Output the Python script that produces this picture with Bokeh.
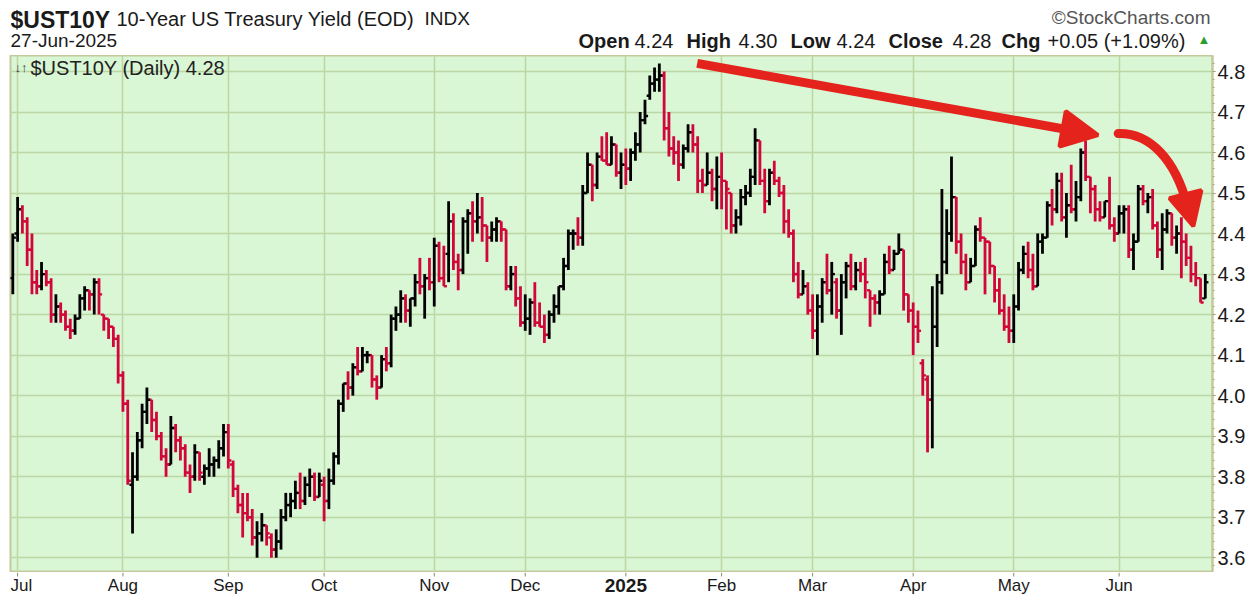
import numpy as np
import pandas as pd
from bokeh.plotting import figure
from bokeh.layouts import column
from bokeh.models import ColumnDataSource, FixedTicker, Label, Arrow, NormalHead, Range1d
from bokeh.core.properties import value
from bokeh.embed import file_html
from bokeh.resources import INLINE

# ---------------- data ----------------
first_day = "2024-06-28"
last_day = "2025-06-27"
market_closed = ["2024-07-04", "2024-09-02", "2024-11-11", "2024-11-28", "2024-12-25",
                 "2025-01-01", "2025-01-09", "2025-01-20", "2025-02-17", "2025-04-18",
                 "2025-06-19"]
month_labels = {7: "Jul", 8: "Aug", 9: "Sep", 10: "Oct", 11: "Nov", 12: "Dec",
                1: "2025", 2: "Feb", 3: "Mar", 4: "Apr", 5: "May", 6: "Jun"}
y_tick_values = [3.6, 3.7, 3.8, 3.9, 4.0, 4.1, 4.2, 4.3, 4.4, 4.5, 4.6, 4.7, 4.8]

symbol = "$UST10Y"
description = "10-Year US Treasury Yield (EOD)"
exchange = "INDX"
as_of = "27-Jun-2025"
last_quote = [("Open", "4.24"), ("High", "4.30"), ("Low", "4.24"), ("Close", "4.28"),
              ("Chg", "+0.05 (+1.09%)")]

opens = [
    4.29,
    4.40, 4.46, 4.43, 4.36, 4.28, 4.27, 4.30, 4.28, 4.20, 4.22, 4.20, 4.17, 4.16, 4.19, 4.24, 4.26, 4.25, 4.28, 4.20, 4.19, 4.17, 4.14,
    4.05, 3.98, 3.78, 3.80, 3.89, 3.96, 3.99, 3.94, 3.90, 3.85, 3.83, 3.92, 3.89, 3.87, 3.81, 3.80, 3.86, 3.80, 3.82, 3.83, 3.84, 3.87,
    3.91, 3.83, 3.77, 3.73, 3.71, 3.70, 3.65, 3.66, 3.68, 3.65, 3.62, 3.64, 3.70, 3.73, 3.74, 3.76, 3.74, 3.78, 3.80, 3.75,
    3.78, 3.74, 3.79, 3.85, 3.98, 4.03, 4.02, 4.07, 4.06, 4.10, 4.10, 4.04, 4.02, 4.09, 4.08, 4.19, 4.20, 4.24, 4.21, 4.24, 4.28, 4.27, 4.29,
    4.28, 4.37, 4.29, 4.35, 4.43, 4.33, 4.31, 4.43, 4.45, 4.43, 4.44, 4.42, 4.39, 4.41, 4.43, 4.41, 4.27, 4.30, 4.24,
    4.18, 4.19, 4.23, 4.18, 4.17, 4.15, 4.20, 4.22, 4.27, 4.32, 4.40, 4.40, 4.39, 4.50, 4.57, 4.52, 4.59, 4.58, 4.57, 4.62, 4.55,
    4.57, 4.56, 4.60, 4.62, 4.68, 4.74, 4.77, 4.78, 4.79, 4.66, 4.61, 4.60, 4.57, 4.61, 4.65, 4.62, 4.53, 4.52, 4.55, 4.51,
    4.54, 4.53, 4.50, 4.42, 4.44, 4.49, 4.50, 4.54, 4.63, 4.53, 4.48, 4.55, 4.53, 4.50, 4.43, 4.40, 4.30, 4.25, 4.27,
    4.21, 4.16, 4.22, 4.28, 4.26, 4.28, 4.21, 4.28, 4.32, 4.27, 4.31, 4.30, 4.26, 4.24, 4.23, 4.25, 4.33, 4.31, 4.35, 4.36, 4.25,
    4.21, 4.17, 4.08, 4.04, 3.99, 4.17, 4.28, 4.33, 4.40, 4.49, 4.38, 4.33, 4.28, 4.32, 4.41, 4.39, 4.38, 4.32, 4.26, 4.21, 4.17,
    4.16, 4.22, 4.31, 4.35, 4.31, 4.27, 4.38, 4.39, 4.47, 4.46, 4.53, 4.44, 4.47, 4.46, 4.49, 4.60, 4.54, 4.51, 4.46, 4.44, 4.48, 4.42,
    4.40, 4.45, 4.46, 4.36, 4.38, 4.51, 4.48, 4.49, 4.42, 4.36, 4.41, 4.45, 4.39, 4.40, 4.38, 4.34, 4.30, 4.29, 4.24,
]
highs = [
    4.40,
    4.49, 4.47, 4.44, 4.40, 4.31, 4.33, 4.31, 4.29, 4.25, 4.23, 4.21, 4.19, 4.20, 4.25, 4.27, 4.26, 4.29, 4.29, 4.20, 4.19, 4.17, 4.15,
    4.06, 3.99, 3.86, 3.91, 3.98, 4.02, 3.99, 3.96, 3.91, 3.87, 3.95, 3.93, 3.90, 3.88, 3.83, 3.88, 3.86, 3.83, 3.87, 3.85, 3.89, 3.93,
    3.93, 3.84, 3.78, 3.76, 3.76, 3.72, 3.69, 3.71, 3.68, 3.66, 3.67, 3.72, 3.76, 3.76, 3.79, 3.81, 3.80, 3.82, 3.81, 3.81,
    3.80, 3.82, 3.86, 3.99, 4.03, 4.06, 4.08, 4.12, 4.12, 4.11, 4.10, 4.05, 4.10, 4.12, 4.20, 4.22, 4.26, 4.25, 4.24, 4.30, 4.34, 4.30, 4.34,
    4.39, 4.38, 4.37, 4.48, 4.45, 4.35, 4.44, 4.46, 4.48, 4.50, 4.49, 4.42, 4.43, 4.44, 4.43, 4.41, 4.32, 4.32, 4.27,
    4.25, 4.24, 4.28, 4.23, 4.20, 4.21, 4.25, 4.27, 4.34, 4.41, 4.41, 4.44, 4.52, 4.60, 4.57, 4.60, 4.64, 4.65, 4.64, 4.62, 4.60,
    4.61, 4.61, 4.65, 4.70, 4.73, 4.79, 4.81, 4.82, 4.80, 4.70, 4.64, 4.63, 4.62, 4.67, 4.67, 4.64, 4.56, 4.60, 4.56, 4.59,
    4.60, 4.53, 4.50, 4.46, 4.51, 4.52, 4.56, 4.66, 4.63, 4.56, 4.56, 4.58, 4.54, 4.52, 4.46, 4.41, 4.33, 4.31, 4.28,
    4.25, 4.25, 4.29, 4.35, 4.33, 4.29, 4.30, 4.33, 4.35, 4.33, 4.33, 4.34, 4.26, 4.25, 4.26, 4.35, 4.37, 4.36, 4.40, 4.36, 4.25,
    4.23, 4.21, 4.09, 4.05, 4.27, 4.30, 4.51, 4.46, 4.59, 4.49, 4.40, 4.35, 4.34, 4.42, 4.44, 4.39, 4.38, 4.32, 4.29, 4.25, 4.22,
    4.25, 4.33, 4.37, 4.38, 4.35, 4.40, 4.40, 4.48, 4.51, 4.55, 4.55, 4.50, 4.57, 4.53, 4.61, 4.63, 4.54, 4.52, 4.48, 4.48, 4.54, 4.44,
    4.47, 4.47, 4.47, 4.40, 4.52, 4.52, 4.50, 4.51, 4.43, 4.45, 4.46, 4.45, 4.42, 4.44, 4.40, 4.37, 4.33, 4.29, 4.30,
]
lows = [
    4.25,
    4.38, 4.40, 4.32, 4.25, 4.25, 4.26, 4.27, 4.18, 4.18, 4.18, 4.16, 4.14, 4.15, 4.19, 4.21, 4.21, 4.20, 4.20, 4.16, 4.14, 4.12, 4.03,
    3.96, 3.78, 3.66, 3.79, 3.87, 3.93, 3.91, 3.89, 3.84, 3.80, 3.83, 3.86, 3.84, 3.80, 3.76, 3.79, 3.79, 3.78, 3.80, 3.80, 3.82, 3.85,
    3.82, 3.75, 3.71, 3.65, 3.69, 3.63, 3.60, 3.64, 3.63, 3.60, 3.60, 3.62, 3.69, 3.70, 3.72, 3.72, 3.73, 3.75, 3.74, 3.75,
    3.69, 3.72, 3.78, 3.83, 3.96, 3.99, 4.00, 4.05, 4.06, 4.08, 4.02, 3.99, 4.02, 4.06, 4.07, 4.16, 4.18, 4.18, 4.17, 4.22, 4.25, 4.19, 4.26,
    4.22, 4.28, 4.27, 4.28, 4.31, 4.26, 4.30, 4.35, 4.38, 4.40, 4.38, 4.33, 4.38, 4.38, 4.38, 4.26, 4.26, 4.22, 4.17,
    4.16, 4.15, 4.17, 4.17, 4.13, 4.14, 4.18, 4.20, 4.26, 4.31, 4.36, 4.37, 4.37, 4.50, 4.48, 4.51, 4.58, 4.57, 4.57, 4.54, 4.51,
    4.52, 4.53, 4.58, 4.60, 4.67, 4.73, 4.75, 4.75, 4.63, 4.59, 4.57, 4.53, 4.56, 4.60, 4.60, 4.50, 4.50, 4.52, 4.48, 4.46,
    4.46, 4.41, 4.40, 4.40, 4.42, 4.47, 4.49, 4.52, 4.52, 4.45, 4.47, 4.52, 4.49, 4.40, 4.39, 4.28, 4.24, 4.25, 4.20,
    4.14, 4.10, 4.18, 4.25, 4.20, 4.19, 4.15, 4.24, 4.26, 4.26, 4.28, 4.24, 4.17, 4.20, 4.20, 4.25, 4.30, 4.31, 4.35, 4.21, 4.18,
    4.10, 4.13, 4.00, 3.86, 3.87, 4.12, 4.25, 4.30, 4.38, 4.35, 4.30, 4.26, 4.28, 4.32, 4.38, 4.25, 4.30, 4.23, 4.20, 4.16, 4.13,
    4.13, 4.21, 4.30, 4.29, 4.26, 4.27, 4.35, 4.39, 4.42, 4.45, 4.43, 4.39, 4.45, 4.43, 4.48, 4.53, 4.45, 4.43, 4.43, 4.44, 4.41, 4.38,
    4.40, 4.40, 4.34, 4.31, 4.38, 4.47, 4.45, 4.41, 4.34, 4.31, 4.40, 4.37, 4.35, 4.29, 4.32, 4.28, 4.27, 4.23, 4.24,
]
closes = [
    4.39,
    4.46, 4.43, 4.36, 4.28, 4.27, 4.30, 4.28, 4.20, 4.22, 4.20, 4.17, 4.16, 4.19, 4.24, 4.26, 4.25, 4.28, 4.25, 4.19, 4.17, 4.14, 4.05,
    3.98, 3.79, 3.80, 3.89, 3.96, 3.99, 3.94, 3.90, 3.85, 3.83, 3.92, 3.89, 3.87, 3.81, 3.80, 3.86, 3.81, 3.82, 3.83, 3.84, 3.87, 3.91,
    3.84, 3.77, 3.73, 3.71, 3.70, 3.65, 3.66, 3.68, 3.66, 3.62, 3.64, 3.70, 3.73, 3.74, 3.76, 3.74, 3.78, 3.80, 3.75, 3.79,
    3.74, 3.79, 3.85, 3.98, 4.03, 4.02, 4.07, 4.06, 4.10, 4.10, 4.04, 4.02, 4.09, 4.08, 4.19, 4.20, 4.24, 4.21, 4.24, 4.28, 4.27, 4.29, 4.28,
    4.37, 4.29, 4.27, 4.43, 4.33, 4.31, 4.43, 4.45, 4.43, 4.44, 4.42, 4.39, 4.41, 4.43, 4.41, 4.27, 4.30, 4.24, 4.18,
    4.19, 4.23, 4.18, 4.17, 4.15, 4.20, 4.22, 4.27, 4.32, 4.40, 4.40, 4.39, 4.50, 4.57, 4.52, 4.59, 4.58, 4.57, 4.62, 4.55, 4.57,
    4.56, 4.60, 4.62, 4.68, 4.69, 4.77, 4.78, 4.79, 4.66, 4.61, 4.60, 4.57, 4.61, 4.65, 4.62, 4.53, 4.52, 4.55, 4.51, 4.54,
    4.53, 4.51, 4.42, 4.44, 4.49, 4.50, 4.54, 4.63, 4.53, 4.48, 4.55, 4.53, 4.50, 4.43, 4.40, 4.30, 4.25, 4.27, 4.21,
    4.16, 4.22, 4.28, 4.26, 4.30, 4.21, 4.28, 4.32, 4.27, 4.31, 4.30, 4.28, 4.24, 4.23, 4.25, 4.33, 4.31, 4.35, 4.36, 4.25, 4.21,
    4.17, 4.16, 4.05, 3.99, 4.17, 4.28, 4.33, 4.40, 4.49, 4.38, 4.33, 4.28, 4.32, 4.41, 4.39, 4.38, 4.32, 4.26, 4.21, 4.17, 4.16,
    4.22, 4.31, 4.35, 4.31, 4.27, 4.38, 4.39, 4.47, 4.46, 4.53, 4.44, 4.47, 4.46, 4.49, 4.60, 4.54, 4.51, 4.46, 4.44, 4.48, 4.42, 4.40,
    4.45, 4.46, 4.36, 4.38, 4.51, 4.48, 4.49, 4.42, 4.36, 4.41, 4.45, 4.39, 4.40, 4.38, 4.34, 4.30, 4.29, 4.23, 4.28,
]

# hand-drawn red annotation arrows (data units: bar index, yield)
arrow_straight = {"x0": 142.9, "y0": 4.820, "x1": 226.6, "y1": 4.643}
arrow_curve = {"x0": 230.8, "y0": 4.647, "cx0": 237.6, "cy0": 4.649,
               "cx1": 242.8, "cy1": 4.580, "x1": 245.2, "y1": 4.470}
arrow_curve_head = {"x0": 244.9, "y0": 4.494, "x1": 246.5, "y1": 4.418}

# ---------------- styles / layout ----------------
FONT = "Liberation Sans"
RED = "#d2063a"
BLACK = "#000000"
BG = "#d9f6d5"
GRID = "#bcd6a4"
BORDER = "#c6c79a"
MARK = "#e5231d"
TXT = "#1a1a1a"

W = 1255
LEFT, RIGHT = 10, 43
HEAD_H, FRAME_H, FOOT_H = 55, 517, 28
X0, X1 = -0.48, 250.5

dates = pd.bdate_range(first_day, last_day)
dates = dates[~dates.isin(pd.to_datetime(market_closed))]
n = len(closes)
assert len(dates) == n == len(opens) == len(highs) == len(lows)
xi = np.arange(n)

colors = [BLACK] + [BLACK if c >= pc else RED for pc, c in zip(closes[:-1], closes[1:])]
src = ColumnDataSource(dict(x=xi, o=opens, h=highs, l=lows, c=closes, color=colors,
                            xl=xi - 0.65, xr=xi + 0.65))

month_ticks = [i for i in range(1, n) if dates[i].month != dates[i - 1].month]
tick_text = [month_labels[dates[i].month] for i in month_ticks]


def blank_fig(height, x_range, y_range):
    f = figure(width=W, height=height, x_range=x_range, y_range=y_range,
               output_backend="svg", toolbar_location=None, min_border=0,
               min_border_left=LEFT, min_border_right=RIGHT,
               background_fill_color="white", border_fill_color="white",
               outline_line_color=None)
    f.axis.visible = False
    f.grid.visible = False
    return f


# ---------- header (x in page pixels, frame spans LEFT..W-RIGHT) ----------
head = blank_fig(HEAD_H, Range1d(LEFT, W - RIGHT), Range1d(HEAD_H, 0))


def htext(x, y, t, size, bold=False, color=TXT, align="left"):
    head.text(x=[x], y=[y], text=[t], text_font=value(FONT), text_font_size=size,
              text_font_style="bold" if bold else "normal", text_color=color,
              text_align=align, text_baseline="alphabetic")


htext(10, 19, symbol, "23px", bold=True)
htext(116, 18, description, "20px")
htext(424, 18, exchange, "19px")
htext(10, 40, as_of, "19px")
htext(1210, 17, "\u00a9StockCharts.com", "19px", color="#555555", align="right")
quote_x = [(578, 634), (686, 738), (790, 836), (888, 952), (1001, 1047)]
for (lbl, val), (xl, xv) in zip(last_quote, quote_x):
    htext(xl, 40, lbl, "20px", bold=True)
    htext(xv, 40, val, "20px")
htext(1197, 39, "\u25b2", "13px", color="#2a9d2a")

# ---------- main chart ----------
p = figure(width=W, height=FRAME_H,
           x_range=Range1d(X0, X1), y_range=Range1d(3.5635, 4.8395),
           y_axis_location="right", output_backend="svg", toolbar_location=None,
           min_border=0, min_border_left=LEFT, min_border_right=RIGHT,
           background_fill_color=BG, border_fill_color="white",
           outline_line_color=BORDER, outline_line_width=2)
p.xaxis.visible = False

p.xgrid.ticker = FixedTicker(ticks=month_ticks)
p.ygrid.ticker = FixedTicker(ticks=y_tick_values)
for g in (p.xgrid, p.ygrid):
    g.grid_line_color = GRID
    g.grid_line_width = 1.5

ya = p.yaxis[0]
minor = [round(3.56 + 0.02 * k, 2) for k in range(65)]
ya.ticker = FixedTicker(ticks=y_tick_values, minor_ticks=minor)
ya.major_label_overrides = {v: f"{v:.1f}" for v in y_tick_values}
ya.axis_line_color = BORDER
ya.axis_line_width = 2
ya.major_tick_line_color = "#8a8a6a"
ya.major_tick_out = 3
ya.major_tick_in = 0
ya.minor_tick_line_color = "#a8a880"
ya.minor_tick_out = 2
ya.minor_tick_in = 0
ya.major_label_standoff = 2
ya.major_label_text_font = FONT
ya.major_label_text_font_size = "20px"
ya.major_label_text_color = TXT

# OHLC bars
p.segment(x0="x", y0="l", x1="x", y1="h", color="color", line_width=2.8, source=src)
p.segment(x0="xl", y0="o", x1="x", y1="o", color="color", line_width=2.4, source=src)
p.segment(x0="x", y0="c", x1="xr", y1="c", color="color", line_width=2.4, source=src)

# red annotation arrows
p.add_layout(Arrow(x_start=arrow_straight["x0"], y_start=arrow_straight["y0"],
                   x_end=arrow_straight["x1"], y_end=arrow_straight["y1"],
                   line_color=MARK, line_width=9,
                   end=NormalHead(size=36, fill_color=MARK, line_color=MARK, line_width=4)))
p.bezier(x0=[arrow_curve["x0"]], y0=[arrow_curve["y0"]], x1=[arrow_curve["x1"]], y1=[arrow_curve["y1"]],
         cx0=[arrow_curve["cx0"]], cy0=[arrow_curve["cy0"]], cx1=[arrow_curve["cx1"]], cy1=[arrow_curve["cy1"]],
         line_color=MARK, line_width=9, line_cap="round")
p.add_layout(Arrow(x_start=arrow_curve_head["x0"], y_start=arrow_curve_head["y0"],
                   x_end=arrow_curve_head["x1"], y_end=arrow_curve_head["y1"],
                   line_color=MARK, line_width=6,
                   end=NormalHead(size=33, fill_color=MARK, line_color=MARK, line_width=4)))

# in-chart legend
p.add_layout(Label(x=4, y=FRAME_H - 12, x_units="screen", y_units="screen", text="\u2193\u2191",
                   text_font=FONT, text_font_size="13px", text_color="#333333",
                   text_baseline="alphabetic"))
p.add_layout(Label(x=20, y=FRAME_H - 12, x_units="screen", y_units="screen",
                   text=f"{symbol} (Daily) {closes[-1]:.2f}",
                   text_font=FONT, text_font_size="20px", text_color="#222222",
                   text_baseline="alphabetic"))

# ---------- footer with month labels (shares the chart's x range) ----------
foot = blank_fig(FOOT_H, p.x_range, Range1d(FOOT_H, 0))
foot.segment(x0=month_ticks, y0=[0] * len(month_ticks), x1=month_ticks, y1=[4] * len(month_ticks),
             line_color="#8a8a6a", line_width=1)
first_i = [0]
normal_i = [k for k, t in enumerate(tick_text) if t != "2025" and k != 0]
bold_i = [k for k, t in enumerate(tick_text) if t == "2025"]
foot.text(x=[X0 for k in first_i], y=[13] * len(first_i),
          text=[tick_text[k] for k in first_i], text_font=value(FONT), text_font_size="17px",
          text_color=TXT, text_align="left", text_baseline="alphabetic")
foot.text(x=[month_ticks[k] for k in normal_i], y=[13] * len(normal_i),
          text=[tick_text[k] for k in normal_i], text_font=value(FONT), text_font_size="17px",
          text_color=TXT, text_align="center", text_baseline="alphabetic")
foot.text(x=[month_ticks[k] for k in bold_i], y=[13] * len(bold_i),
          text=[tick_text[k] for k in bold_i], text_font=value(FONT), text_font_size="19px",
          text_font_style="bold", text_color=TXT, text_align="center", text_baseline="alphabetic")

layout = column(head, p, foot, spacing=0)
open("out.html", "w").write(file_html(layout, INLINE))
